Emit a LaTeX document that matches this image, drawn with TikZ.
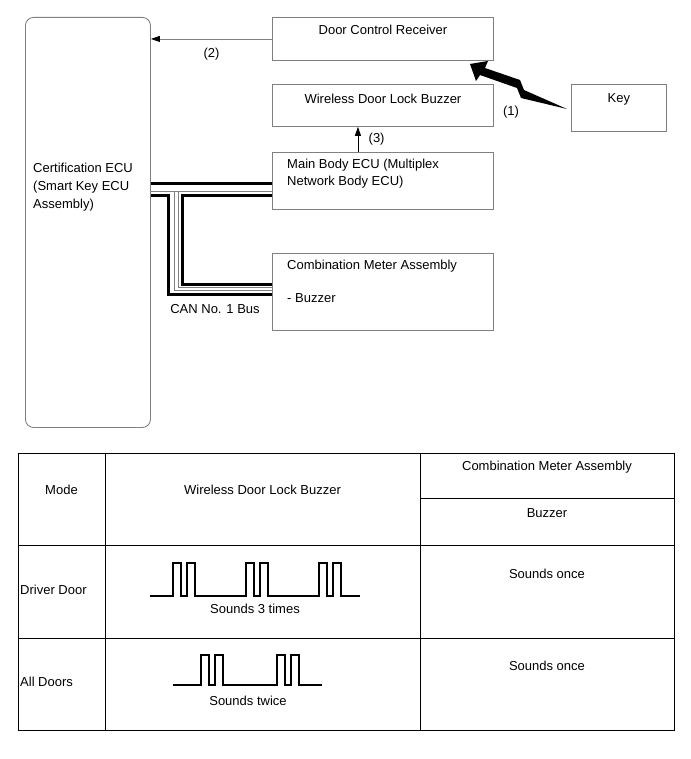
\documentclass[tikz,border=0pt]{standalone}
\usepackage{fontspec}
\setmainfont{Liberation Sans}
\usetikzlibrary{positioning, arrows.meta, calc}
\definecolor{boxgray}{RGB}{128,128,128}

\begin{document}
\begin{tikzpicture}[
			x=1pt, y=-1pt,
			font=\fontsize{13}{15}\selectfont,
			box/.style={draw=boxgray, line width=0.9pt, minimum width=221pt, inner sep=0pt},
			ecubox/.style={box, rounded corners=8pt, minimum width=125pt, minimum height=410pt, anchor=north west},
			txt/.style={align=left, inner sep=0pt},
			sig/.style={-{Triangle[length=9pt, width=6pt, color=black]}},
			bus/.style={line width=3pt},
			busgray/.style={draw=boxgray, line width=0.8pt},
			tabline/.style={line width=0.8pt},
			pulse/.style={line width=1.4pt}
			]
			\useasboundingbox (0,0) rectangle (690,759);
			
			% Nodes
			\node[ecubox] (ecu) at (25,17) {};
			\node[box, minimum height=43pt, anchor=north west] (dcr) at (272,17) {};
			\node[box, minimum height=42pt] (wdlb) [below=23pt of dcr] {};
			\node[box, minimum height=57pt] (mbe) [below=25pt of wdlb] {};
			\node[box, minimum height=77pt] (cma) [below=43pt of mbe] {};
			\node[box, minimum width=95pt, minimum height=47pt, right=77pt of wdlb.north east, anchor=north west] (key) {};
			
			% Texts
			\node[txt, anchor=west] (ecutext) at ([xshift=8pt]ecu.west |- 0,187) {Certification ECU\\[3pt](Smart Key ECU\\[3pt]Assembly)};
			\node (dcrtext) at ([yshift=-13pt]dcr.north) {Door Control Receiver};
			\node (wdlbtext) at ([yshift=-15pt]wdlb.north) {Wireless Door Lock Buzzer};
			\node (keytext) at ([yshift=-15pt]key.north) {Key};
			\node[txt, anchor=west] (mbetext) at ([xshift=15pt, yshift=-21.5pt]mbe.north west) {Main Body ECU (Multiplex\\[2pt]Network Body ECU)};
			\node[txt, anchor=west] (cmatext) at ([xshift=15pt, yshift=-13pt]cma.north west) {Combination Meter Assembly};
			\node[txt, anchor=west] (buzztext) at ([xshift=15pt, yshift=-45pt]cma.north west) {- Buzzer};
			\node[txt] (canlabel) at (215,309) {CAN No. 1 Bus};
			
			% Arrows
			\draw[boxgray, line width=0.8pt, sig] (dcr.west) -- node[black, midway, yshift=-15pt] (lbltwo) {(2)} (dcr.west -| ecu.east);
			\draw[line width=0.8pt, sig] ([xshift=-25pt]mbe.north) -- node[midway, right=7pt] (lblthree) {(3)} ([xshift=-25pt]mbe.north |- wdlb.south);
			\fill (470,64) -- (488,61) -- (485,68) -- (520,80) -- (524,90) -- (567,109)
			-- (521,98) -- (517,88) -- (480,75) -- (476,81) -- cycle;
			\node (lblone) at (511,112) {(1)};
			
			% CAN bus
			\coordinate (hA) at ([yshift=-32pt]mbe.north west);
			\coordinate (hB) at ([yshift=-40pt]mbe.north west);
			\coordinate (hC) at ([yshift=-44pt]mbe.north west);
			\coordinate (lA) at ([yshift=-32pt]cma.north west);
			\coordinate (lB) at ([yshift=-35pt]cma.north west);
			\coordinate (lC) at ([yshift=-38pt]cma.north west);
			\coordinate (lD) at ([yshift=-42pt]cma.north west);
			\coordinate (vA) at ([xshift=18pt]ecu.east);
			\coordinate (vB) at ([xshift=23pt]ecu.east);
			\coordinate (vC) at ([xshift=27pt]ecu.east);
			\coordinate (vD) at ([xshift=32pt]ecu.east);
			\draw[bus] (hA -| ecu.east) -- (hA);
			\draw[busgray] (hB -| ecu.east) -- (hB);
			\draw[busgray] (hB -| vB) -- (lC -| vB) -- (lC);
			\draw[busgray] (hB -| vC) -- (lB -| vC) -- (lB);
			\draw[bus] (hC -| ecu.east) -- (hC -| vA) -- (lD -| vA) -- (lD);
			\draw[bus] (hC) -- (hC -| vD) -- (lA -| vD) -- (lA);
			
			% Table
			\draw[tabline] (18,453) rectangle (674,730);
			\draw[tabline] (105,453) -- (105,730);
			\draw[tabline] (420,453) -- (420,730);
			\draw[tabline] (420,498) -- (674,498);
			\draw[tabline] (18,545) -- (674,545);
			\draw[tabline] (18,638) -- (674,638);
			
			\node (hmode) at (61.5,490) {Mode};
			\node (hwdlb) at (262.5,490) {Wireless Door Lock Buzzer};
			\node (hcma) at (547,467) {Combination Meter Assembly};
			\node (hbuzz) at (547,513) {Buzzer};
			\node[txt, anchor=west] (rdriver) at (20,590) {Driver Door};
			\node[txt, anchor=west] (rall) at (20,682) {All Doors};
			\node (donce) at (547,574) {Sounds once};
			\node (aonce) at (547,666) {Sounds once};
			
			% Waveforms
			\draw[pulse] (150,596) foreach \g in {173,246,319} {
				-- (\g,596) -- (\g,563) -- (\g+8,563) -- (\g+8,596)
				-- (\g+14,596) -- (\g+14,563) -- (\g+22,563) -- (\g+22,596)} -- (360,596);
			\node (dthree) at (255,609) {Sounds 3 times};
			\draw[pulse] (173,685) foreach \g in {201,277} {
				-- (\g,685) -- (\g,655) -- (\g+8,655) -- (\g+8,685)
				-- (\g+14,685) -- (\g+14,655) -- (\g+22,655) -- (\g+22,685)} -- (322,685);
			\node (atwice) at (248,701) {Sounds twice};
			
		\end{tikzpicture}
\end{document}
